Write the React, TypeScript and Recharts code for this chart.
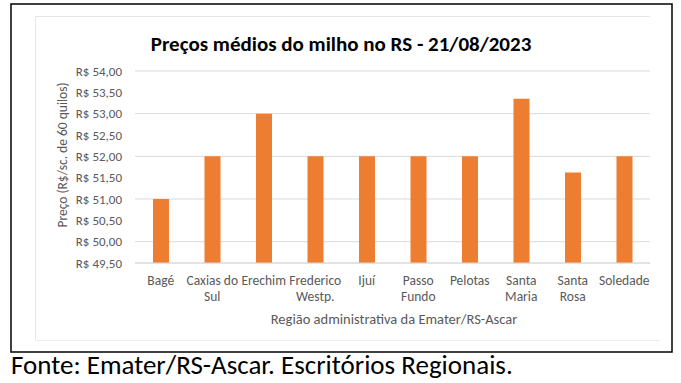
import { Bar, BarChart, CartesianGrid, XAxis, YAxis } from "recharts"

const regions = [
  "Bagé",
  "Caxias do\nSul",
  "Erechim",
  "Frederico\nWestp.",
  "Ijuí",
  "Passo\nFundo",
  "Pelotas",
  "Santa\nMaria",
  "Santa\nRosa",
  "Soledade",
]
const prices = [51.0, 52.0, 53.0, 52.0, 52.0, 52.0, 52.0, 53.35, 51.62, 52.0]
const priceTicks = [49.5, 50, 50.5, 51, 51.5, 52, 52.5, 53, 53.5, 54]

const data = regions.map((name, i) => ({ name, preco: prices[i] }))

const FONT = "Calibri, Carlito, Lato, 'Open Sans', sans-serif"
const GREY = "#595959"

const fmtReal = (v: number) => "R$ " + v.toFixed(2).replace(".", ",")

function RegionTick({ x, y, payload }: { x?: number; y?: number; payload?: { value: string } }) {
  const lines = String(payload?.value ?? "").split("\n")
  return (
    <text x={x} y={y} textAnchor="middle" fill={GREY} fontSize={13.5} fontFamily={FONT}>
      {lines.map((l, i) => (
        <tspan key={i} x={x} dy={i === 0 ? 22 : 16}>
          {l}
        </tspan>
      ))}
    </text>
  )
}

export default function App() {
  return (
    <div style={{ position: "absolute", left: 0, top: 0, width: 681, height: 383, background: "#fff", fontFamily: FONT }}>
      <svg width={681} height={383} style={{ position: "absolute", left: 0, top: 0 }}>
        <path d="M35.5 340 V16.5 H650" fill="none" stroke="#e6e6e6" strokeWidth={1} />
        <path d="M35.5 340.5 H660" fill="none" stroke="#eeeeee" strokeWidth={1} />
        <rect x={11} y={4} width={661} height={348} fill="none" stroke="#111" strokeWidth={1.6} />
        <text x={341} y={51} textAnchor="middle" fontSize={21} fontWeight="bold" fill="#000" fontFamily={FONT}>
          Preços médios do milho no RS - 21/08/2023
        </text>
        <text
          x={64}
          y={155}
          transform="rotate(-90 64 155)"
          textAnchor="middle"
          dominantBaseline="middle"
          fontSize={13.5}
          fill={GREY}
          fontFamily={FONT}
        >
          Preço (R$/sc. de 60 quilos)
        </text>
        <text x={394} y={324} textAnchor="middle" fontSize={14.5} fill={GREY} fontFamily={FONT}>
          Região administrativa da Emater/RS-Ascar
        </text>
        <text x={11} y={374} fontSize={27} fill="#000" fontFamily={FONT}>
          Fonte: Emater/RS-Ascar. Escritórios Regionais.
        </text>
      </svg>
      <div style={{ position: "absolute", left: 0, top: 0 }}>
        <BarChart width={681} height={383} data={data} margin={{ top: 71, right: 31, bottom: 90, left: 0 }} barSize={16}>
          <CartesianGrid vertical={false} stroke="#D9D9D9" />
          <XAxis
            dataKey="name"
            interval={0}
            tickLine={false}
            tickSize={0}
            tickMargin={0}
            height={30}
            axisLine={{ stroke: "#D9D9D9" }}
            tick={<RegionTick />}
          />
          <YAxis
            width={135}
            domain={[49.5, 54]}
            ticks={priceTicks}
            allowDataOverflow
            axisLine={false}
            tickLine={false}
            tickSize={0}
            tickMargin={13}
            tickFormatter={fmtReal}
            tick={{ fill: GREY, fontSize: 13, fontFamily: FONT }}
          />
          <Bar dataKey="preco" fill="#ED7D31" isAnimationActive={false} />
        </BarChart>
      </div>
    </div>
  )
}
